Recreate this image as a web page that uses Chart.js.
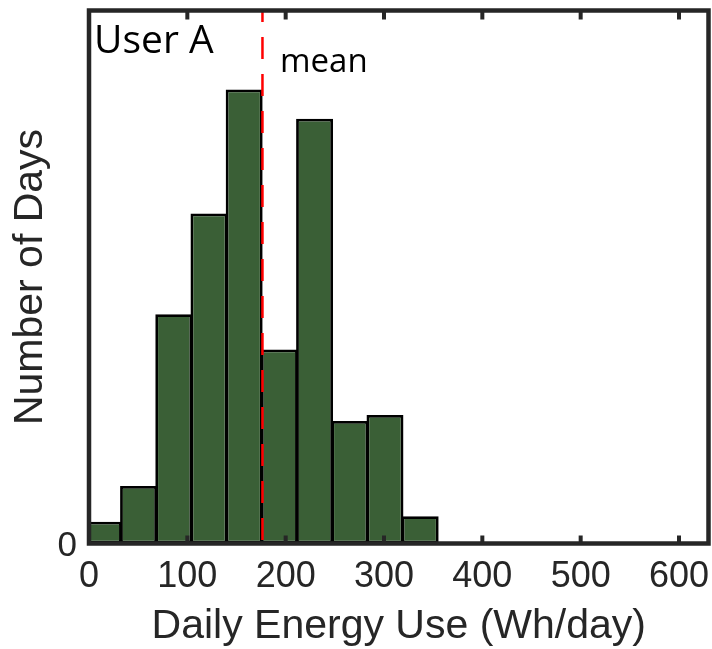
<!DOCTYPE html>
<html>
<head>
<meta charset="utf-8">
<title>User A - Daily Energy Use</title>
<script src="https://cdn.jsdelivr.net/npm/chart.js@4.4.1/dist/chart.umd.min.js"></script>
<style>
  html, body { margin: 0; padding: 0; background: #fff; }
  canvas { display: block; }
</style>
</head>
<body>
<canvas id="histChart" width="712" height="649"></canvas>
<script>
// Histogram data
const binCenters = [14.6, 50.4, 86.2, 122.0, 157.8, 193.6, 229.4, 265.2, 301.0, 336.8];
const dayCounts = [4.1, 10.8, 43.0, 61.9, 85.2, 36.4, 79.7, 23.0, 24.1, 5.1];
const xTickValues = [0, 100, 200, 300, 400, 500, 600];
const yTickValues = [0];
const meanValue = 176.4;

const axisColor = '#262626';
const sansFont = '"Liberation Sans", Arial, Helvetica, sans-serif';

// Box frame, inward tick marks, mean line and the two annotations
const framePlugin = {
    id: 'frame',
    afterDatasetsDraw(chart) {
        const { ctx, chartArea: a } = chart;
        const x = chart.scales.x;
        ctx.save();

        // dashed mean line
        const mx = x.getPixelForValue(meanValue);
        ctx.strokeStyle = '#ff0000';
        ctx.lineWidth = 2.5;
        ctx.setLineDash([22, 15]);
        ctx.lineDashOffset = 10.4;
        ctx.beginPath();
        ctx.moveTo(mx, a.top);
        ctx.lineTo(mx, a.bottom);
        ctx.stroke();
        ctx.setLineDash([]);

        // tick marks on bottom and top edges
        ctx.fillStyle = axisColor;
        x.ticks.forEach(t => {
            const px = x.getPixelForValue(t.value);
            ctx.fillRect(px - 2, a.bottom - 8, 4, 8);
            ctx.fillRect(px - 2, a.top, 4, 9);
        });

        // frame
        ctx.strokeStyle = axisColor;
        ctx.lineWidth = 4.5;
        ctx.strokeRect(a.left, a.top, a.right - a.left, a.bottom - a.top);

        // annotations
        ctx.fillStyle = '#000';
        ctx.textBaseline = 'alphabetic';
        ctx.textAlign = 'left';
        ctx.font = '39px "Open Sans"';
        ctx.fillText('User A', 94, 53);
        ctx.font = '33px "Open Sans"';
        ctx.fillText('mean', 280, 71.5);

        ctx.restore();
    }
};

const ctx = document.getElementById('histChart').getContext('2d');
new Chart(ctx, {
    type: 'bar',
    data: {
        datasets: [{
            data: binCenters.map((c, i) => ({ x: c, y: dayCounts[i] })),
            backgroundColor: '#3a5f36',
            borderColor: '#000000',
            borderWidth: 2.8,
            borderSkipped: false,
            barPercentage: 1.05,
            categoryPercentage: 1
        }]
    },
    options: {
        responsive: false,
        animation: false,
        devicePixelRatio: 1,
        layout: {
            padding: { top: 10.5, right: 3.5, bottom: 0, left: 0 }
        },
        plugins: {
            legend: { display: false },
            tooltip: { enabled: false }
        },
        scales: {
            x: {
                type: 'linear',
                min: 0,
                max: 630,
                offset: false,
                grid: { display: false, drawTicks: false },
                border: { display: false },
                afterBuildTicks: s => { s.ticks = xTickValues.map(v => ({ value: v })); },
                afterFit: s => {
                    s.height = 105.5;
                    s.paddingLeft = 0;
                    s.paddingRight = 0;
                },
                ticks: {
                    color: axisColor,
                    font: { family: sansFont, size: 36, lineHeight: 1 },
                    padding: 16,
                    maxRotation: 0,
                    autoSkip: false
                },
                title: {
                    display: true,
                    text: 'Daily Energy Use (Wh/day)',
                    color: axisColor,
                    font: { family: sansFont, size: 41, lineHeight: 1 },
                    padding: { top: 0, bottom: 1.5 }
                }
            },
            y: {
                min: 0,
                max: 100,
                grid: { display: false, drawTicks: false },
                border: { display: false },
                afterBuildTicks: s => { s.ticks = yTickValues.map(v => ({ value: v })); },
                afterFit: s => {
                    s.width = 89;
                    s.paddingTop = 0;
                    s.paddingBottom = 0;
                },
                ticks: {
                    color: axisColor,
                    font: { family: sansFont, size: 35, lineHeight: 1 },
                    padding: 12,
                    labelOffset: 3
                },
                title: {
                    display: true,
                    text: 'Number of Days',
                    color: axisColor,
                    font: { family: sansFont, size: 41, lineHeight: 1 },
                    padding: { top: 10, bottom: 0 }
                }
            }
        }
    },
    plugins: [framePlugin]
});
</script>
</body>
</html>
